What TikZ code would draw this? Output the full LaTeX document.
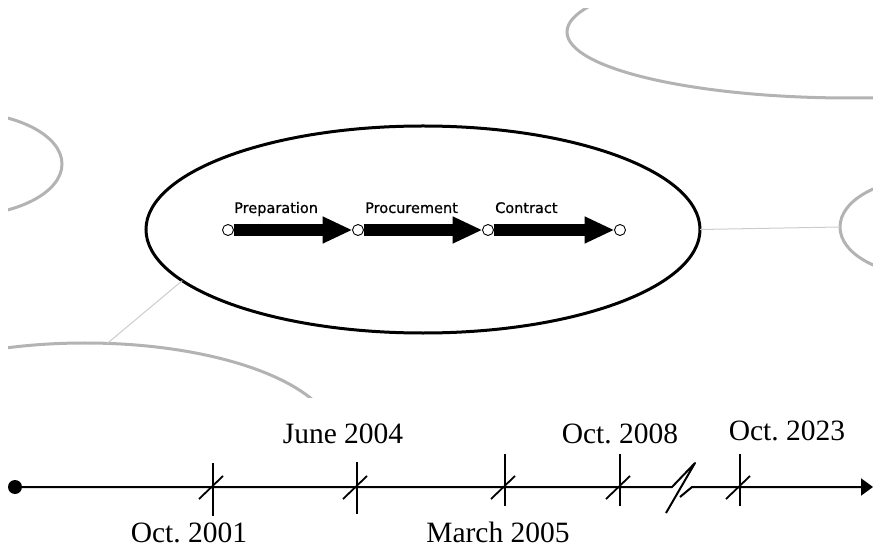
\documentclass[tikz,border=0pt]{standalone}
\usepackage{fontspec}
\setmainfont{Liberation Serif}
\newfontfamily\stagefont[FakeBold=0.8]{DejaVu Sans}
\usetikzlibrary{shapes.geometric,arrows.meta,calc}
\definecolor{bubblegray}{HTML}{B3B3B3}
\definecolor{linkgray}{HTML}{CCCCCC}
\begin{document}
\frenchspacing
\begin{tikzpicture}[x=1bp,y=-1bp,
  bubble/.style={ellipse, draw=bubblegray, line width=3bp, inner sep=0pt, outer sep=0pt},
  link/.style={draw=linkgray, line width=1bp},
  core/.style={ellipse, draw=black, line width=3bp, inner sep=0pt, outer sep=0pt,
    minimum width=554bp, minimum height=207bp},
  milestone/.style={circle, draw=black, fill=white, line width=0.9bp,
    minimum size=11bp, inner sep=0pt, outer sep=0pt},
  phase/.style={line width=12bp, -{Triangle[length=30bp,width=25bp]}},
  stagelabel/.style={anchor=base west, inner sep=0pt,
    font=\stagefont\fontsize{14.5bp}{17bp}\selectfont},
  axis/.style={line width=2bp, line join=round},
  slash/.style={line width=1.8bp},
  datelabel/.style={anchor=base, inner sep=0pt,
    font=\fontsize{29.5bp}{34bp}\selectfont},
]
\useasboundingbox (0,0) rectangle (873,549);

% central process bubble
\node[core] (core) at (423,229.5) {};

% surrounding bubbles, cut off at the frame of the upper panel
\begin{scope}
  \clip (8,9) rectangle (873,397);
  \node[bubble, minimum width=566bp, minimum height=132bp] (bTR) at (850,32) {};
  \node[bubble, minimum width=204bp, minimum height=104bp] (bL) at (-40,164) {};
  \node[bubble, minimum width=180bp, minimum height=98bp] (bR) at (930,227) {};
  \node[bubble, minimum width=500bp, minimum height=194bp] (bB) at (85,440) {};
\end{scope}
\draw[link] (core.east) -- (bR.west);
\draw[link] (core.192) -- (bB.77);

% process stages
\node[milestone] (p0) at (228,230) {};
\node[milestone] (p1) at (358,230) {};
\node[milestone] (p2) at (488,230) {};
\node[milestone] (p3) at (620,230) {};
\draw[phase] (p0) -- (p1);
\draw[phase] (p1) -- (p2);
\draw[phase] (p2) -- (p3);
\node[stagelabel] (s1) at (234,213) {Preparation};
\node[stagelabel] (s2) at (365,213) {Procurement};
\node[stagelabel] (s3) at (495,213) {Contract};

% timeline with a break before the last date
\node[circle, fill=black, minimum size=14bp, inner sep=0pt, outer sep=0pt] (t0) at (15,487) {};
\coordinate (brkA) at (672,487);
\coordinate (brkB) at (695,463);
\coordinate (brkC) at (666,513);
\coordinate (brkD) at (680,497);
\coordinate (brkE) at (692,487);
\coordinate (tend) at (873,487);
\draw[axis] (t0) -- (brkA) -- (brkB) -- (brkC);
\draw[axis, -{Triangle[length=12bp,width=17bp]}] (brkD) -- (brkE) -- (tend);

\foreach \name/\x/\up/\dn/\w in {k1/213/24/29/2bp, k2/357/25/27/2bp,
    k3/505/33/19/2.8bp, k4/620/33/19/2bp, k5/740/33/19/2bp} {
  \coordinate (\name) at (\x,487);
  \draw[line width=\w] ($(\name)+(0,-\up)$) -- ($(\name)+(0,\dn)$);
  \draw[slash] ($(\name)+(-14,12)$) -- ($(\name)+(10,-11)$);
}

\node[datelabel] (d1) at (189,542) {Oct. 2001};
\node[datelabel] (d2) at (343,443) {June 2004};
\node[datelabel] (d3) at (498,542) {March 2005};
\node[datelabel] (d4) at (620,443) {Oct. 2008};
\node[datelabel] (d5) at (787,440) {Oct. 2023};
\end{tikzpicture}
\end{document}
